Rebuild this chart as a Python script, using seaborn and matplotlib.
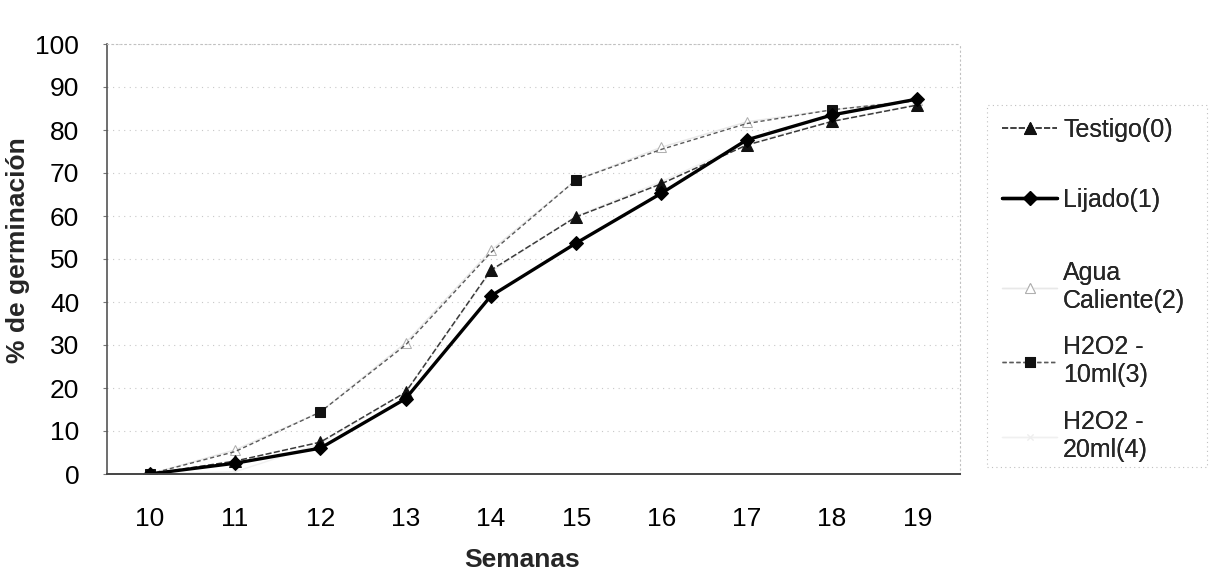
import matplotlib
matplotlib.use("Agg")
import matplotlib.pyplot as plt
import matplotlib.patches as mpatches
import seaborn as sns

# ---- data ----
weeks = [10, 11, 12, 13, 14, 15, 16, 17, 18, 19]
testigo = [0, 3, 7.4, 19, 47.4, 59.8, 67.5, 76.5, 82, 85.8]
lijado = [0, 2.5, 6, 17.5, 41.4, 53.7, 65.3, 77.7, 83.5, 87.2]
agua_caliente = [0, 5.6, 14.4, 30.5, 52, 68.4, 76, 81.9, 84.7, 87]
h2o2_10 = [0, 5.2, 14.4, 30, 51.5, 68.4, 75.5, 81.5, 84.7, 86.8]
h2o2_20 = [0, 0.5, 7, 19, 47, 60, 68, 77, 82, 86]
series_labels = ["Testigo(0)", "Lijado(1)", "Agua\nCaliente(2)", "H2O2 -\n10ml(3)", "H2O2 -\n20ml(4)"]
y_ticks = [0, 10, 20, 30, 40, 50, 60, 70, 80, 90, 100]
x_title = "Semanas"
y_title = "% de germinación"

sns.set_theme(style="white")
plt.rcParams['font.family'] = ['Liberation Sans', 'DejaVu Sans']

W, H = 1209, 587
fig = plt.figure(figsize=(W / 100, H / 100), dpi=100)
L, R, T, B = 107, 960, 44, 474
ax = fig.add_axes([L / W, 1 - B / H, (R - L) / W, (B - T) / H])

styles = [
    dict(y=agua_caliente, color="#e8e8e8", marker="^", ms=7, lw=1.0, ls="-", mfc="white", mec="#b0b0b0", every=None),
    dict(y=h2o2_20, color="#f0f0f0", marker="x", ms=4, lw=1.0, ls="-", mfc="#eeeeee", mec="#eeeeee", every=None),
    dict(y=h2o2_10, color="#5a5a5a", marker="s", ms=6.5, lw=1.0, ls=(0, (3, 2)), mfc="#111111", mec="#111111", every=[0, 2, 5, 8]),
    dict(y=testigo, color="#3a3a3a", marker="^", ms=8.5, lw=1.1, ls=(0, (4, 1.5)), mfc="#111111", mec="#111111", every=None),
    dict(y=lijado, color="#000000", marker="D", ms=7.5, lw=2.4, ls="-", mfc="#000000", mec="#000000", every=None),
]
order_labels = [series_labels[2], series_labels[4], series_labels[3], series_labels[0], series_labels[1]]

handles = {}
for st, lab in zip(styles, order_labels):
    kw = dict(markevery=st["every"]) if st["every"] is not None else {}
    sns.lineplot(x=weeks, y=st["y"], ax=ax, color=st["color"], linewidth=st["lw"],
                 linestyle=st["ls"], marker=st["marker"], markersize=st["ms"],
                 markerfacecolor=st["mfc"], markeredgecolor=st["mec"], legend=False, **kw)
    handles[lab] = ax.lines[-1]

ax.set_xlim(9.5, 19.5)
ax.set_ylim(0, 100)
ax.set_xticks(weeks)
ax.set_xticklabels([str(w) for w in weeks])
ax.set_yticks(y_ticks)
ax.tick_params(axis="both", labelsize=19, colors="#000000")
ax.tick_params(axis="y", length=3, width=0.8, color="#777777", pad=17, direction="out", left=True)
ax.tick_params(axis="x", length=0, pad=24)
for yv in y_ticks[1:]:
    ax.axhline(yv, color="#c8c8c8", lw=0.8, ls=(0, (1, 4)), zorder=0)

for side in ["top", "right"]:
    ax.spines[side].set_color("#c0c0c0")
    ax.spines[side].set_linestyle((0, (1, 3)))
    ax.spines[side].set_linewidth(0.8)
ax.spines["left"].set_color("#555555")
ax.spines["left"].set_linewidth(1.2)
ax.spines["bottom"].set_color("#444444")
ax.spines["bottom"].set_linewidth(1.4)

ax.set_xlabel(x_title, fontsize=19, fontweight="bold")
ax.set_ylabel(y_title, fontsize=19, fontweight="bold")
ax.xaxis.set_label_coords(0.487, -0.172)
ax.yaxis.set_label_coords(-0.09, 0.52)

# legend: one entry per block to match Excel spacing
entry_y = [130, 200, 287, 361, 436]
for lab, yy in zip(series_labels, entry_y):
    leg = fig.legend(handles=[handles[lab]], labels=[lab], loc="center left",
                     bbox_to_anchor=(1002 / W, 1 - yy / H), bbox_transform=fig.transFigure,
                     frameon=False, fontsize=18, handlelength=2.2, handletextpad=0.25,
                     borderpad=0, borderaxespad=0)
    fig.add_artist(leg)

fig.patches.append(mpatches.Rectangle((987 / W, 1 - 467 / H), (1207 - 987) / W, (467 - 105) / H,
                                      transform=fig.transFigure, fill=False,
                                      edgecolor="#c0c0c0", lw=0.8, ls=(0, (1, 3))))

fig.savefig("out.png", dpi=100, facecolor="white")
